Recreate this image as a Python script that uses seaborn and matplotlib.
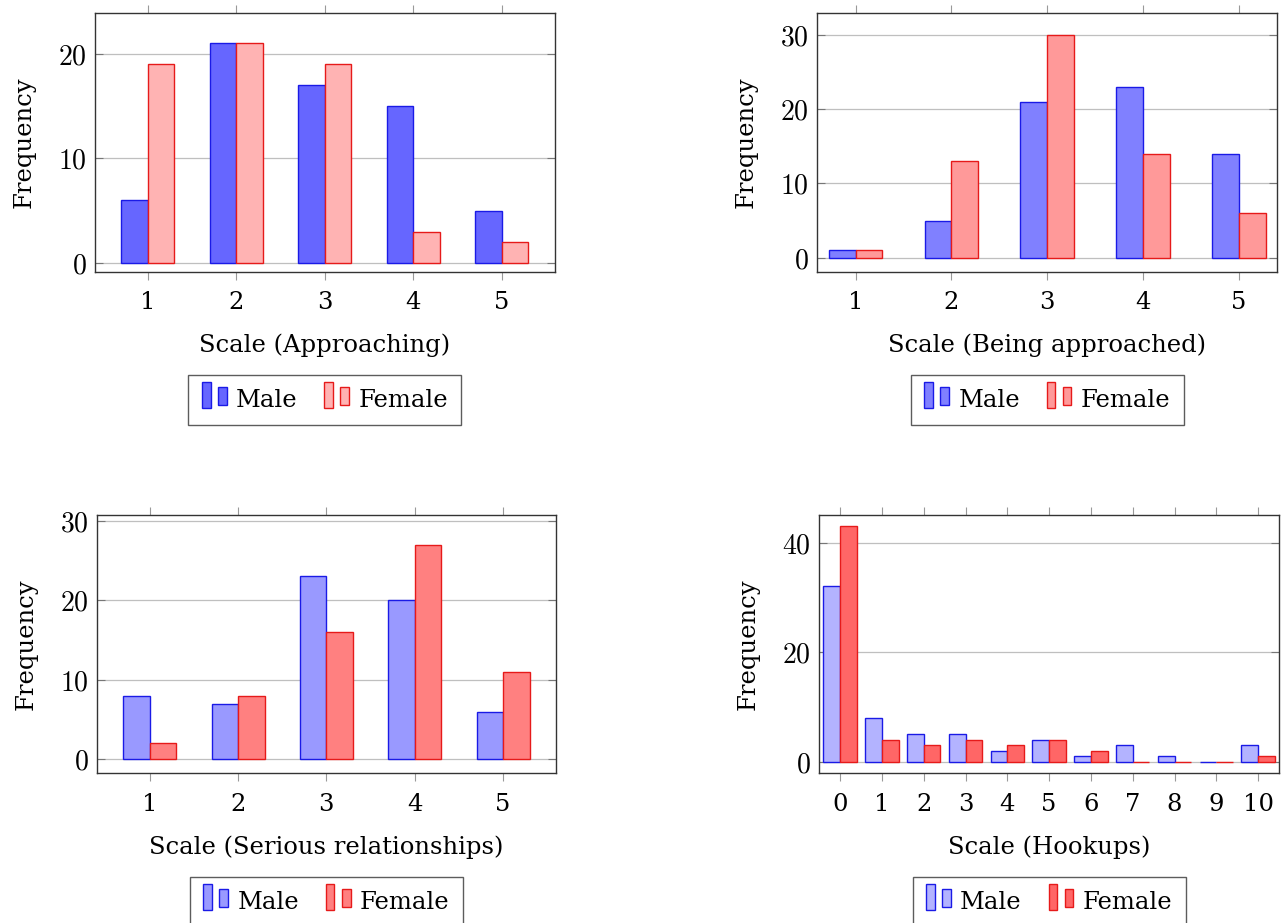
import pandas as pd
import matplotlib
matplotlib.use("Agg")
import matplotlib.pyplot as plt
import seaborn as sns
from matplotlib.patches import Rectangle
from matplotlib.legend_handler import HandlerBase
from matplotlib.ticker import FuncFormatter

# ---------------- data ----------------
scale_5 = [1, 2, 3, 4, 5]
scale_11 = [0, 1, 2, 3, 4, 5, 6, 7, 8, 9, 10]

approach_male = [6, 21, 17, 15, 5]
approach_female = [19, 21, 19, 3, 2]

approached_male = [1, 5, 21, 23, 14]
approached_female = [1, 13, 30, 14, 6]

serious_male = [8, 7, 23, 20, 6]
serious_female = [2, 8, 16, 27, 11]

hookup_male = [32, 8, 5, 5, 2, 4, 1, 3, 1, 0, 3]
hookup_female = [43, 4, 3, 4, 3, 4, 2, 0, 0, 0, 1]

xlabels = ["Scale (Approaching)", "Scale (Being approached)",
           "Scale (Serious relationships)", "Scale (Hookups)"]

sns.set_style("white")
plt.rcParams["font.family"] = ["DejaVu Serif"]
plt.rcParams["mathtext.fontset"] = "cm"
plt.rcParams["text.color"] = "black"
plt.rcParams["axes.labelcolor"] = "black"


# pgfplots style legend entry: two little bars side by side
class TwoBars(HandlerBase):
    def create_artists(self, legend, orig, xd, yd, w, h, fontsize, trans):
        fc = orig.get_facecolor()
        ec = orig.get_edgecolor()
        bw = w * 0.3
        r1 = Rectangle((xd, yd - h * 0.15), bw, h * 1.3, fc=fc, ec=ec, lw=1, transform=trans)
        r2 = Rectangle((xd + w * 0.55, yd), bw, h * 0.9, fc=fc, ec=ec, lw=1, transform=trans)
        return [r1, r2]


def make_df(x, male, female):
    return pd.DataFrame({
        "scale": x + x,
        "freq": male + female,
        "gender": ["Male"] * len(x) + ["Female"] * len(x),
    })


fig = plt.figure(figsize=(12.82, 9.23), dpi=100)
W, H = 1282, 923

panels = [
    # data, fills, box in px (left, right, top, bottom), group width, xlim, ylim, yticks
    (make_df(scale_5, approach_male, approach_female), ("#6666ff", "#ffb3b3"),
     (94.7, 555, 13.3, 271.7), 0.6, (-0.6, 4.6), (-0.83, 23.85), [0, 10, 20]),
    (make_df(scale_5, approached_male, approached_female), ("#8080ff", "#ff9999"),
     (817.3, 1277.3, 13.3, 271.7), 0.56, (-0.4, 4.4), (-1.88, 32.9), [0, 10, 20, 30]),
    (make_df(scale_5, serious_male, serious_female), ("#9999ff", "#ff8080"),
     (96.7, 556, 514.7, 773.3), 0.6, (-0.6, 4.6), (-1.76, 30.77), [0, 10, 20, 30]),
    (make_df(scale_11, hookup_male, hookup_female), ("#b3b3ff", "#ff6666"),
     (819.3, 1279, 514.7, 773.3), 0.8, (-0.5, 10.5), (-2.1, 45.1), [0, 20, 40]),
]
edges = ["#1a1ae6", "#e61a1a"]

for i, (df, fills, box, width, xlim, ylim, yticks) in enumerate(panels):
    l, r, t, b = box
    ax = fig.add_axes([l / W, 1 - b / H, (r - l) / W, (b - t) / H])
    sns.barplot(data=df, x="scale", y="freq", hue="gender", hue_order=["Male", "Female"],
                width=width, legend=False, ax=ax, zorder=3)
    for cont, fc, ec in zip(ax.containers, fills, edges):
        for bar in cont:
            bar.set_facecolor(fc)
            bar.set_edgecolor(ec)
            bar.set_linewidth(1.0)

    ax.set_xlim(*xlim)
    ax.set_ylim(*ylim)
    ax.set_yticks(yticks)
    ax.yaxis.set_major_formatter(FuncFormatter(lambda v, p: f"${v:g}$"))
    ax.grid(axis="y", color="#bfbfbf", lw=0.9, zorder=0)
    ax.set_axisbelow(True)

    ax.tick_params(axis="x", which="major", direction="out", top=True, bottom=True,
                   length=6, color="#999999", labelcolor="black", labelsize=17.5, pad=8)
    ax.tick_params(axis="y", which="major", direction="in", left=True, right=True,
                   length=6, color="#777777", labelcolor="black", labelsize=20, pad=6)
    for s in ax.spines.values():
        s.set_color("#333333")
        s.set_linewidth(1.0)

    ax.set_xlabel(xlabels[i], fontsize=17.5, labelpad=14)
    ax.set_ylabel("Frequency", fontsize=17.5, labelpad=16)

    handles = [Rectangle((0, 0), 1, 1, fc=fills[0], ec=edges[0]),
               Rectangle((0, 0), 1, 1, fc=fills[1], ec=edges[1])]
    leg = ax.legend(handles, ["Male", "Female"], handler_map={Rectangle: TwoBars()},
                    loc="upper center", bbox_to_anchor=(0.5, -0.40), borderaxespad=0,
                    ncol=2, fontsize=17.5, frameon=True, fancybox=False,
                    edgecolor="#333333", handlelength=1.2, handletextpad=0.2,
                    columnspacing=1.1, borderpad=0.55, handleheight=0.9)
    leg.get_frame().set_linewidth(1.0)

plt.savefig("out.png", dpi=100)
